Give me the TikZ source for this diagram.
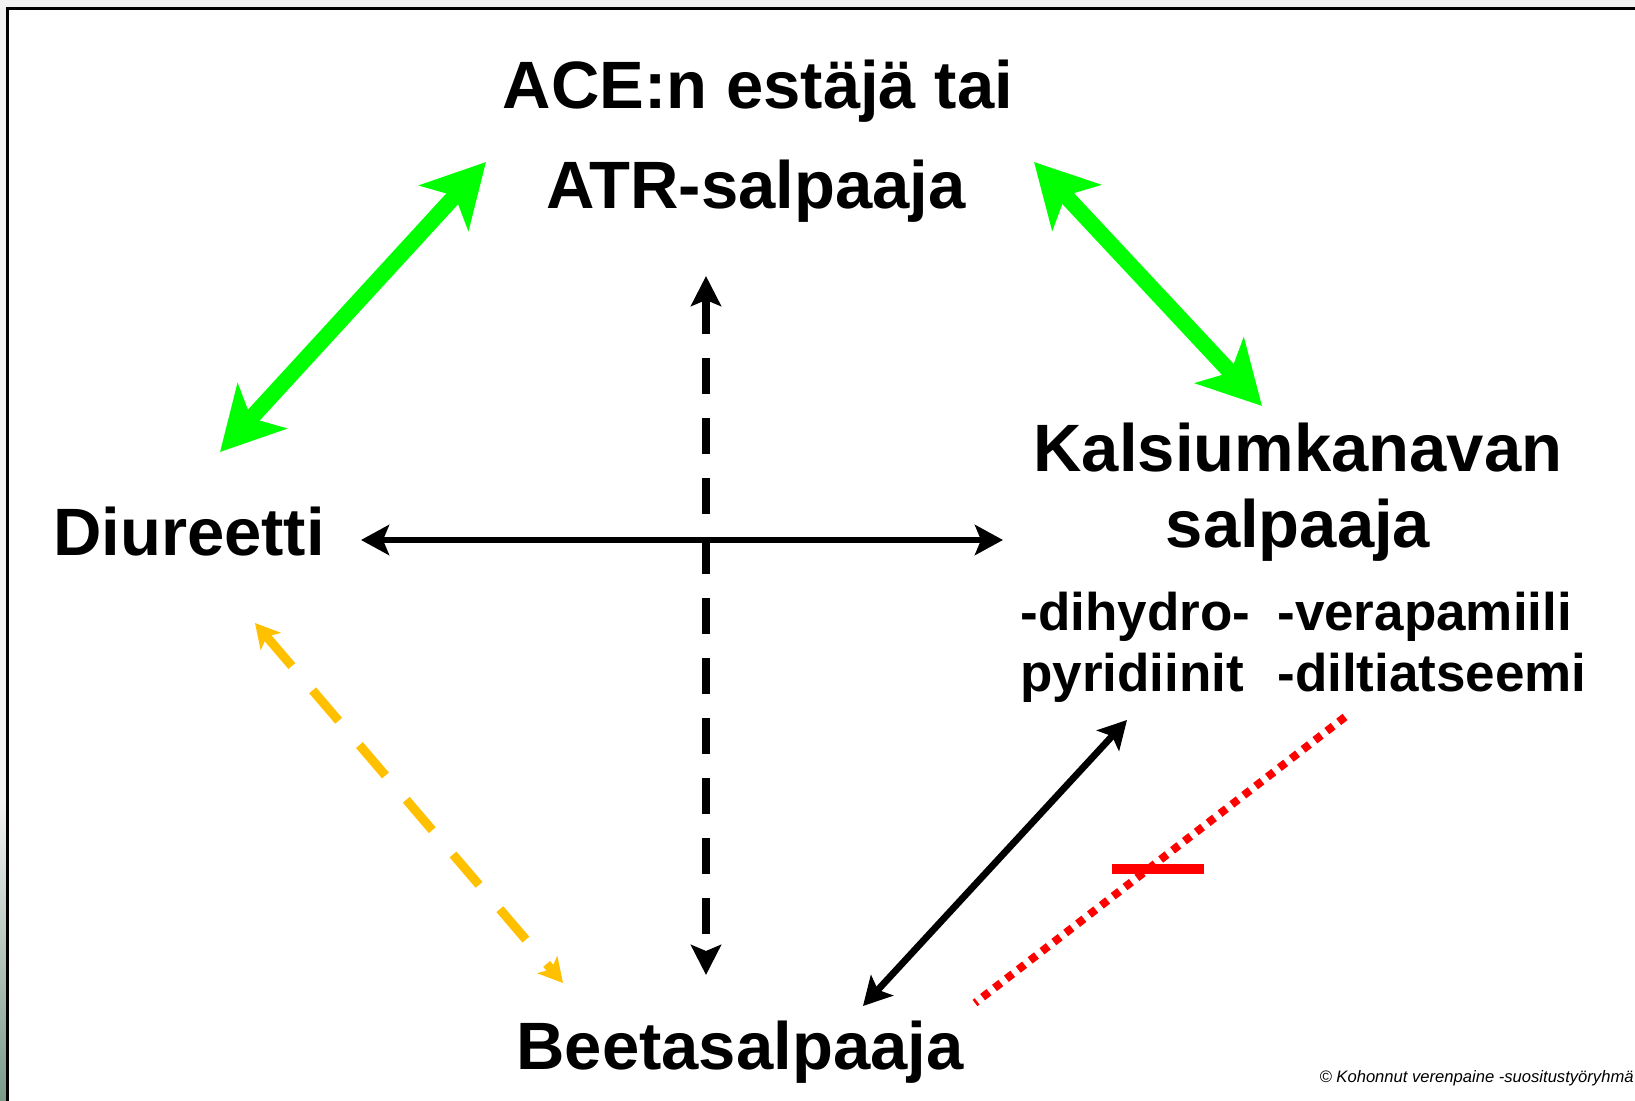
\documentclass[tikz,border=0pt]{standalone}
\usepackage{fontspec}
\setmainfont{Liberation Sans}
\usetikzlibrary{arrows.meta}
\definecolor{combogreen}{HTML}{00FF00}
\definecolor{comboamber}{HTML}{FFC000}
\definecolor{combored}{HTML}{FF0000}
\definecolor{stripgray}{HTML}{F2F2F2}
\definecolor{stripmoss}{HTML}{7A9A88}
\tikzstyle{drug} = [font=\fontsize{33.5}{40}\selectfont\bfseries, anchor=base, inner sep=0pt]
\tikzstyle{subdrug} = [font=\fontsize{26.5}{32}\selectfont\bfseries, anchor=base west, inner sep=0pt]
\tikzstyle{good} = [combogreen, line width=8pt, {Stealth[length=31pt,width=33pt,inset=8pt]}-{Stealth[length=31pt,width=33pt,inset=8pt]}]
\tikzstyle{usable} = [black, line width=3.4pt, {Stealth[length=14pt,width=15pt,inset=3pt]}-{Stealth[length=14pt,width=15pt,inset=3pt]}]
\tikzstyle{maybe} = [black, line width=4pt, dash pattern=on 18pt off 12pt, {Stealth[length=15pt,width=15pt,inset=3pt]}-{Stealth[length=15pt,width=15pt,inset=3pt]}]
\tikzstyle{lessgood} = [comboamber, line width=4.5pt, dash pattern=on 20pt off 16pt, {Stealth[length=12pt,width=13pt,inset=3pt]}-{Stealth[length=12pt,width=13pt,inset=3pt]}]
\tikzstyle{avoid} = [combored, line width=4pt, dash pattern=on 4pt off 3.5pt]

\begin{document}
\begin{tikzpicture}[x=0.5pt, y=-0.5pt]
\useasboundingbox (0,0) rectangle (1635,1101);
\fill[white] (0,0) rectangle (1635,1101);
\fill[stripgray] (0,0) rectangle (1635,8);
\fill[stripgray] (0,0) rectangle (7,800);
\shade[top color=stripgray, bottom color=stripmoss] (0,800) rectangle (7,1101);
\draw[line width=1.5pt] (7.5,1101) -- (7.5,9) -- (1635,9);

\node (ace) [drug] at (758,109) {ACE:n estäjä tai};
\node (atr) [drug] at (756,209) {ATR-salpaaja};
\node (diur) [drug] at (189,556) {Diureetti};
\node (kalsium) [drug] at (1298,472) {Kalsiumkanavan};
\node (kalsalp) [drug] at (1298,548) {salpaaja};
\node (dihydro) [subdrug] at (1020,631) {-dihydro-};
\node (pyrid) [subdrug] at (1020,691) {pyridiinit};
\node (vera) [subdrug] at (1277,631) {-verapamiili};
\node (diltia) [subdrug] at (1277,691) {-diltiatseemi};
\node (beeta) [drug] at (740,1069) {Beetasalpaaja};
\node (copy) [font=\fontsize{8.3}{10}\selectfont\itshape, anchor=base east, inner sep=0pt] at (1634,1082) {© Kohonnut verenpaine -suositustyöryhmä};

\coordinate (diur-ace) at (220,452);
\coordinate (ace-diur) at (486,162);
\coordinate (ace-kals) at (1034,162);
\coordinate (kals-ace) at (1262,406);
\coordinate (diur-kals) at (361,540);
\coordinate (kals-diur) at (1003,540);
\coordinate (ace-beeta) at (706,276);
\coordinate (beeta-ace) at (706,975);
\coordinate (diur-beeta) at (255,623);
\coordinate (beeta-diur) at (563,983);
\coordinate (pyrid-beeta) at (1127,720);
\coordinate (beeta-pyrid) at (863,1006);
\coordinate (diltia-beeta) at (1345,717);
\coordinate (beeta-diltia) at (975,1003);
\coordinate (bar-l) at (1112,869);
\coordinate (bar-r) at (1204,869);

\draw[good] (diur-ace) -- (ace-diur);
\draw[good] (ace-kals) -- (kals-ace);
\draw[usable] (diur-kals) -- (kals-diur);
\draw[maybe] (ace-beeta) -- (beeta-ace);
\draw[lessgood] (diur-beeta) -- (beeta-diur);
\draw[usable] (pyrid-beeta) -- (beeta-pyrid);
\draw[avoid] (diltia-beeta) -- (beeta-diltia);
\draw[combored, line width=5pt] (bar-l) -- (bar-r);
\end{tikzpicture}
\end{document}
